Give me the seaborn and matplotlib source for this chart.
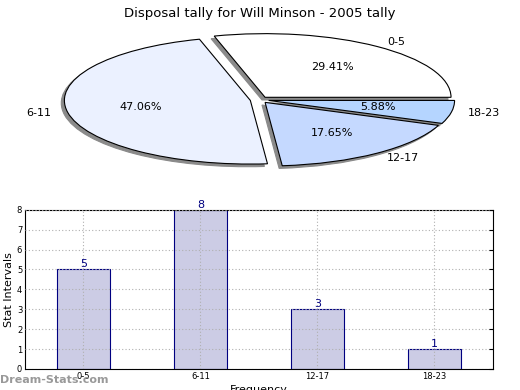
import matplotlib
matplotlib.use("Agg")
import matplotlib.pyplot as plt
import seaborn as sns

# chart data
categories = ["0-5", "6-11", "12-17", "18-23"]
counts = [5, 8, 3, 1]
pie_colors = ["#FFFFFF", "#EBF1FF", "#C5D9FF", "#B5D5FF"]

sns.set_style("white")
plt.rcParams['font.family'] = ['DejaVu Sans']
plt.rcParams['text.color'] = 'black'
plt.rcParams['axes.labelcolor'] = 'black'
plt.rcParams['xtick.color'] = 'black'
plt.rcParams['ytick.color'] = 'black'

fig = plt.figure(figsize=(5.2, 3.9), dpi=100)

# Pie chart on top (stretched, not circular)
ax1 = fig.add_axes([0.052, 0.54, 0.894, 0.408])
wedges, texts, autotexts = ax1.pie(
    counts, labels=categories, colors=pie_colors, explode=[0.05] * 4,
    autopct='%1.2f%%', startangle=0, labeldistance=1.09,
    shadow={'ox': -0.012, 'oy': -0.03, 'color': '#8a8a8a', 'alpha': 1},
    wedgeprops={'edgecolor': 'black', 'linewidth': 0.8},
    textprops={'fontsize': 8, 'color': 'black'})
ax1.set_aspect('auto')
ax1.set_xlim(-1.25, 1.25)
ax1.set_ylim(-1.25, 1.25)
ax1.set_title('Disposal tally for Will Minson - 2005 tally', fontsize=9.5,
              pad=2, color='black')

# Bar chart below
ax2 = fig.add_axes([0.048, 0.054, 0.9, 0.408])
sns.barplot(x=categories, y=counts, ax=ax2, color="#CCCCE5", saturation=1,
            edgecolor="navy", linewidth=0.8, width=0.45)
for i, v in enumerate(counts):
    ax2.text(i, v, str(v), ha='center', va='bottom', color='navy', fontsize=8)

ax2.set_xlim(-0.5, 3.5)
ax2.set_ylim(0, 8)
ax2.set_yticks(range(9))
ax2.grid(True, linestyle=(0, (1, 2)), color='#b0b0b0', linewidth=0.8)
ax2.set_axisbelow(False)
ax2.tick_params(direction='in', labelsize=6, length=3, right=True, top=False,
                pad=2)
for s in ax2.spines.values():
    s.set_color('black')
    s.set_linewidth(0.8)
ax2.set_ylabel('Stat Intervals', fontsize=8, labelpad=2)
ax2.set_xlabel('Frequency', fontsize=8, labelpad=3)

fig.text(0.0, 0.012, 'Dream-Stats.com', fontsize=8, color='#999999',
         fontweight='bold', ha='left', va='bottom')

fig.savefig('out.png', dpi=100)
